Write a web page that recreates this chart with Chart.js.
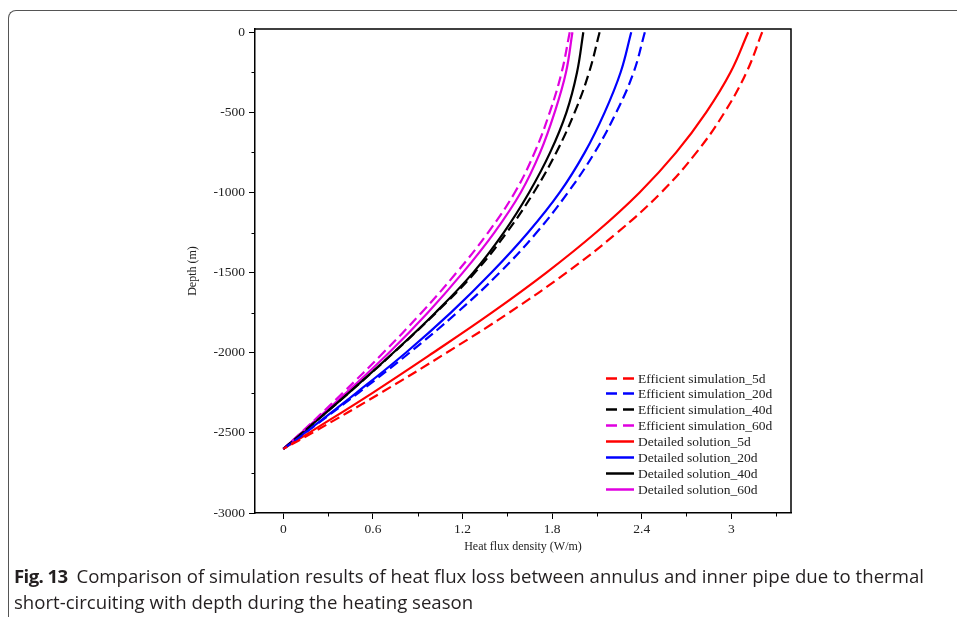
<!DOCTYPE html>
<html>
<head>
<meta charset="utf-8">
<script src="https://cdn.jsdelivr.net/npm/chart.js@4.4.1/dist/chart.umd.min.js"></script>
<style>
  html, body { margin: 0; padding: 0; background: #fff; }
  body { width: 957px; height: 617px; position: relative; overflow: hidden; }
  #frame {
    position: absolute; left: 8px; top: 10px; width: 1000px; height: 700px;
    border-top: 1px solid #555; border-left: 1px solid #555;
    border-top-left-radius: 8px; box-sizing: border-box;
  }
  #plot { position: absolute; left: 0; top: 0; }
  .cap {
    position: absolute; left: 14px; white-space: nowrap;
    font-family: "Open Sans", "Noto Sans", sans-serif; font-size: 18.6px; color: #231f20;
  }
  .cap b { font-weight: 700; letter-spacing: -0.6px; margin-right: 4px; }
</style>
</head>
<body>
<div id="frame"></div>
<canvas id="plot" width="957" height="617"></canvas>
<div class="cap" style="top:563px"><b>Fig. 13</b> Comparison of simulation results of heat flux loss between annulus and inner pipe due to thermal</div>
<div class="cap" style="top:589px">short-circuiting with depth during the heating season</div>
<script>
// Depth levels (m) at which each curve is sampled, from the surface down
const depths = [0, -250, -500, -750, -1000, -1250, -1500, -1750, -2000, -2250, -2500, -2600];

// Heat flux density (W/m) per case
const effSim5d  = [3.207, 3.102, 2.955, 2.767, 2.531, 2.237, 1.896, 1.512, 1.093, 0.654, 0.194, 0];
const effSim20d = [2.421, 2.346, 2.230, 2.085, 1.906, 1.696, 1.449, 1.163, 0.845, 0.503, 0.147, 0];
const effSim40d = [2.118, 2.048, 1.951, 1.828, 1.677, 1.496, 1.283, 1.023, 0.738, 0.439, 0.127, 0];
const effSim60d = [1.918, 1.864, 1.784, 1.683, 1.550, 1.371, 1.160, 0.925, 0.669, 0.399, 0.117, 0];
const detail5d  = [3.113, 2.995, 2.832, 2.631, 2.386, 2.094, 1.762, 1.396, 1.003, 0.598, 0.172, 0];
const detail20d = [2.330, 2.259, 2.152, 2.019, 1.851, 1.639, 1.394, 1.122, 0.820, 0.489, 0.144, 0];
const detail40d = [2.009, 1.967, 1.896, 1.787, 1.646, 1.476, 1.271, 1.018, 0.736, 0.438, 0.127, 0];
const detail60d = [1.936, 1.893, 1.817, 1.720, 1.590, 1.413, 1.202, 0.967, 0.707, 0.421, 0.120, 0];

const seriesNames = [
  'Efficient simulation_5d', 'Efficient simulation_20d', 'Efficient simulation_40d', 'Efficient simulation_60d',
  'Detailed solution_5d', 'Detailed solution_20d', 'Detailed solution_40d', 'Detailed solution_60d'
];

// Axis ticks
const xTickValues = [0, 0.3, 0.6, 0.9, 1.2, 1.5, 1.8, 2.1, 2.4, 2.7, 3.0, 3.3];
const xTickLabels = ['0', '', '0.6', '', '1.2', '', '1.8', '', '2.4', '', '3', ''];
const yTickValues = [0, -250, -500, -750, -1000, -1250, -1500, -1750, -2000, -2250, -2500, -2750, -3000];
const yTickLabels = ['0', '', '-500', '', '-1000', '', '-1500', '', '-2000', '', '-2500', '', '-3000'];

const RED = '#ff0000', BLUE = '#0000ff', BLACK = '#000000', MAGENTA = '#e000e0';
const DASH = [10, 5];

function series(values) {
  return values.map((v, i) => ({ x: v, y: depths[i] }));
}

const seriesValues = [effSim5d, effSim20d, effSim40d, effSim60d, detail5d, detail20d, detail40d, detail60d];
const seriesColors = [RED, BLUE, BLACK, MAGENTA, RED, BLUE, BLACK, MAGENTA];

const datasets = seriesValues.map((vals, i) => ({
  label: seriesNames[i],
  data: series(vals),
  borderColor: seriesColors[i],
  backgroundColor: seriesColors[i],
  borderWidth: 2.2,
  borderDash: i < 4 ? DASH : [],
  pointRadius: 0,
  tension: 0.4,
  fill: false
}));

const serif = '"Liberation Serif", "Times New Roman", serif';

function setTicks(values, labels) {
  return function (scale) {
    scale.ticks = values.map((v, i) => ({ value: v, label: labels[i], major: labels[i] !== '' }));
  };
}

// Short minor tick marks and the closing box around the plot area
const framePlugin = {
  id: 'frameAndMinorTicks',
  afterDraw(chart) {
    const { ctx, chartArea: a, scales } = chart;
    ctx.save();
    ctx.strokeStyle = '#000';
    ctx.lineWidth = 1.5;
    ctx.beginPath();
    ctx.moveTo(a.left, a.top); ctx.lineTo(a.right, a.top); ctx.lineTo(a.right, a.bottom);
    ctx.stroke();
    ctx.lineWidth = 1;
    ctx.beginPath();
    scales.x.ticks.forEach(t => {
      if (t.major) return;
      const px = Math.round(scales.x.getPixelForValue(t.value)) + 0.5;
      ctx.moveTo(px, a.bottom); ctx.lineTo(px, a.bottom + 3.5);
    });
    scales.y.ticks.forEach(t => {
      if (t.major) return;
      const py = Math.round(scales.y.getPixelForValue(t.value)) + 0.5;
      ctx.moveTo(a.left, py); ctx.lineTo(a.left - 3.5, py);
    });
    ctx.stroke();
    ctx.restore();
  }
};

// Legend drawn inside the lower-right of the plot area
const legendPlugin = {
  id: 'insideLegend',
  afterDraw(chart) {
    const { ctx, chartArea: a } = chart;
    const x0 = a.right - 185, y0 = a.bottom - 135.5, step = 15.86;
    ctx.save();
    ctx.font = '13.5px ' + serif;
    ctx.textBaseline = 'middle';
    chart.data.datasets.forEach((ds, i) => {
      const y = Math.round(y0 + i * step) + 0.5;
      ctx.strokeStyle = ds.borderColor;
      ctx.lineWidth = 2.5;
      ctx.setLineDash(ds.borderDash.length ? [11, 6] : []);
      ctx.beginPath(); ctx.moveTo(x0, y); ctx.lineTo(x0 + 28, y); ctx.stroke();
      ctx.setLineDash([]);
      ctx.fillStyle = '#222';
      ctx.fillText(ds.label, x0 + 32, y + 0.5);
    });
    ctx.restore();
  }
};

new Chart(document.getElementById('plot'), {
  type: 'line',
  data: { datasets },
  plugins: [framePlugin, legendPlugin],
  options: {
    responsive: false,
    animation: false,
    indexAxis: 'y',
    events: [],
    layout: { padding: { left: 180, right: 166, top: 29, bottom: 54 } },
    plugins: { legend: { display: false }, tooltip: { enabled: false } },
    scales: {
      x: {
        type: 'linear', position: 'bottom', min: -0.19, max: 3.4,
        afterBuildTicks: setTicks(xTickValues, xTickLabels),
        afterFit(scale) { scale.height = 50; },
        grid: {
          drawOnChartArea: false, drawTicks: true, tickLength: 6, tickWidth: 1,
          tickColor: c => (c.tick && c.tick.major) ? '#000' : 'rgba(0,0,0,0)'
        },
        border: { color: '#000', width: 1.5 },
        ticks: {
          autoSkip: false, maxRotation: 0, padding: 2, color: '#222',
          font: { family: serif, size: 13.5 },
          callback: (v, i, ticks) => ticks[i].label
        },
        title: {
          display: true, text: 'Heat flux density (W/m)', color: '#222',
          font: { family: serif, size: 12 }, padding: { top: 0, bottom: 9 }
        }
      },
      y: {
        type: 'linear', position: 'left', min: -3000, max: 20,
        afterBuildTicks: setTicks(yTickValues, yTickLabels),
        afterFit(scale) { scale.width = 75; },
        grid: {
          drawOnChartArea: false, drawTicks: true, tickLength: 6, tickWidth: 1,
          tickColor: c => (c.tick && c.tick.major) ? '#000' : 'rgba(0,0,0,0)'
        },
        border: { color: '#000', width: 1.5 },
        ticks: {
          autoSkip: false, padding: 4, color: '#222',
          font: { family: serif, size: 13.5 },
          callback: (v, i, ticks) => ticks[i].label
        },
        title: {
          display: true, text: 'Depth (m)', color: '#222',
          font: { family: serif, size: 12 }, padding: { top: 6, bottom: 0 }
        }
      }
    }
  }
});
</script>
</body>
</html>
